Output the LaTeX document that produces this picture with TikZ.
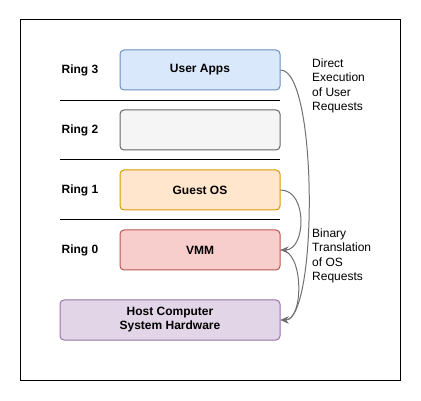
\documentclass[tikz,border=0pt]{standalone}
\usepackage{fontspec}
\setmainfont{Liberation Sans}
\usetikzlibrary{arrows.meta}
\definecolor{bluef}{HTML}{DAE8FC}\definecolor{blued}{HTML}{6C8EBF}
\definecolor{grayf}{HTML}{F5F5F5}\definecolor{grayd}{HTML}{666666}
\definecolor{orgf}{HTML}{FFE6CC}\definecolor{orgd}{HTML}{D79B00}
\definecolor{redf}{HTML}{F8CECC}\definecolor{redd}{HTML}{B85450}
\definecolor{purf}{HTML}{E1D5E7}\definecolor{purd}{HTML}{9673A6}
\definecolor{arr}{HTML}{707070}
\tikzset{
  box/.style={draw, rounded corners=4pt, line width=1pt, minimum width=160pt, minimum height=40pt, inner sep=0pt, font=\fontsize{12}{14}\selectfont\bfseries, align=center},
  ring/.style={font=\fontsize{12}{14}\selectfont\bfseries},
  note/.style={font=\fontsize{12}{14.5}\selectfont, align=left, anchor=north west, inner sep=0pt},
  sep/.style={line width=1pt},
  conn/.style={draw=arr, line width=1pt, -{Stealth[length=8pt,width=7pt]}}
}
\begin{document}
\begin{tikzpicture}[x=1pt,y=-1pt]
\useasboundingbox (0,0) rectangle (421,401);
\node[draw, line width=1pt, minimum width=380pt, minimum height=360pt, inner sep=0pt] (frame) at (210,200) {};
\node[box, fill=bluef, draw=blued] (ua) at (200,70) {User Apps};
\node[box, fill=grayf, draw=grayd] (r2) at (200,130) {};
\node[box, fill=orgf, draw=orgd] (gos) at (200,190) {Guest OS};
\node[box, fill=redf, draw=redd] (vmm) at (200,250) {VMM};
\node[box, fill=purf, draw=purd, minimum width=220pt] (host) at (170,320) {Host Computer\\System Hardware};
\node[ring] (l3) at (80,70) {Ring 3};
\node[ring] (l2) at (80,130) {Ring 2};
\node[ring] (l1) at (80,190) {Ring 1};
\node[ring] (l0) at (80,250) {Ring 0};
\coordinate (s1a) at (60,101); \coordinate (s1b) at (280,101);
\coordinate (s2a) at (60,160); \coordinate (s2b) at (280,160);
\coordinate (s3a) at (60,220); \coordinate (s3b) at (280,220);
\draw[sep] (s1a) -- (s1b);
\draw[sep] (s2a) -- (s2b);
\draw[sep] (s3a) -- (s3b);
\node[note] (n1) at (312,58.5) {Direct\\Execution\\of User\\Requests};
\node[note] (n2) at (312,228.5) {Binary\\Translation\\of OS\\Requests};
\draw[conn] (ua.east) .. controls (318,70) and (318,320) .. (host.east);
\draw[conn] (gos.east) .. controls (308,190) and (306,250) .. (vmm.east);
\draw[conn] (vmm.east) .. controls (304,250) and (304,320) .. (host.east);
\end{tikzpicture}
\end{document}
